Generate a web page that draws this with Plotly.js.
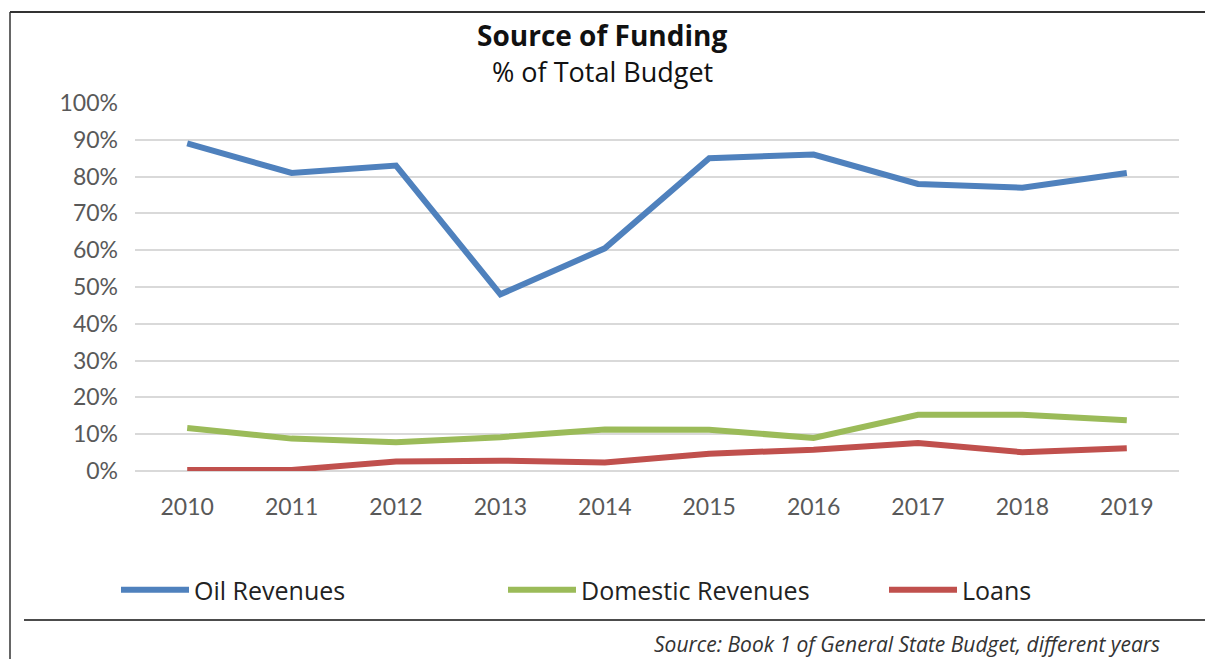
<!DOCTYPE html>
<html>
<head>
<meta charset="utf-8">
<script src="https://cdn.plot.ly/plotly-3.0.1.min.js"></script>
<style>html,body{margin:0;padding:0;background:#fff;}#chart{width:1205px;height:659px;}</style>
</head>
<body>
<div id="chart"></div>
<script>
const years = ["2010","2011","2012","2013","2014","2015","2016","2017","2018","2019"];
const oilRevenues = [0.89, 0.81, 0.83, 0.48, 0.605, 0.85, 0.86, 0.78, 0.77, 0.81];
const domesticRevenues = [0.117, 0.088, 0.078, 0.092, 0.113, 0.112, 0.09, 0.153, 0.153, 0.138];
const loans = [0.003, 0.003, 0.026, 0.028, 0.023, 0.047, 0.058, 0.076, 0.051, 0.062];
const seriesNames = ["Oil Revenues", "Domestic Revenues", "Loans"];
const seriesColors = ["#4F81BD", "#9BBB59", "#C0504D"];
const yTicks = [0,0.1,0.2,0.3,0.4,0.5,0.6,0.7,0.8,0.9,1.0];

const W = 1205, H = 659, L = 135, R = 26, T = 103, B = 188;
const pw = W - L - R, ph = H - T - B;
const px = x => (x - L) / pw;
const py = y => (H - B - y) / ph;

const legendIds = ['legend', 'legend2', 'legend3'];
const legendX = [116, 503, 884];

const traces = [oilRevenues, domesticRevenues, loans].map((vals, i) => ({
  x: years, y: vals, type: 'scatter', mode: 'lines', name: seriesNames[i],
  legend: legendIds[i],
  line: {color: seriesColors[i], width: 6}
}));

const legendBase = i => ({
  orientation: 'h', x: px(legendX[i]), xanchor: 'left', y: py(590), yanchor: 'middle',
  font: {family: 'Open Sans', size: 25, color: '#222'},
  itemwidth: 68, bgcolor: 'rgba(0,0,0,0)'
});

const layout = {
  width: W, height: H,
  margin: {l: L, r: R, t: T, b: B},
  paper_bgcolor: '#fff', plot_bgcolor: '#fff',
  showlegend: true,
  legend: legendBase(0), legend2: legendBase(1), legend3: legendBase(2),
  xaxis: {
    type: 'category', range: [-0.5, 9.5], showgrid: false, zeroline: false,
    showline: false, ticks: '', ticklabelstandoff: 20,
    tickfont: {family: 'Lato', size: 23, color: '#595959'}, fixedrange: true
  },
  yaxis: {
    range: [0, 1.0], tickvals: yTicks, tickformat: '.0%',
    showgrid: true, gridcolor: '#D9D9D9', gridwidth: 2,
    zeroline: true, zerolinecolor: '#D9D9D9', zerolinewidth: 2,
    showline: false, ticks: '', ticklabelstandoff: 16,
    tickfont: {family: 'Lato', size: 23, color: '#595959'}, fixedrange: true
  },
  annotations: [
    {text: '<b>Source of Funding</b>', xref: 'paper', yref: 'paper', x: px(602), y: py(35),
     xanchor: 'center', yanchor: 'middle', showarrow: false,
     font: {family: 'Open Sans', size: 28, color: '#111'}},
    {text: '% of Total Budget', xref: 'paper', yref: 'paper', x: px(602), y: py(71),
     xanchor: 'center', yanchor: 'middle', showarrow: false,
     font: {family: 'Open Sans', size: 27, color: '#111'}},
    {text: '<i>Source: Book 1 of General State Budget, different years</i>', xref: 'paper', yref: 'paper',
     x: px(1162), y: py(644), xanchor: 'right', yanchor: 'middle', showarrow: false,
     font: {family: 'Open Sans', size: 21, color: '#333'}}
  ],
  shapes: [
    {type: 'line', xref: 'paper', yref: 'paper', x0: px(10), x1: px(1205), y0: py(12), y1: py(12),
     line: {color: '#333', width: 2}},
    {type: 'line', xref: 'paper', yref: 'paper', x0: px(10), x1: px(10), y0: py(12), y1: py(659),
     line: {color: '#333', width: 1.5}},
    {type: 'line', xref: 'paper', yref: 'paper', x0: px(24), x1: px(1205), y0: py(620), y1: py(620),
     line: {color: '#111', width: 1.5}}
  ]
};

Plotly.newPlot('chart', traces, layout, {displayModeBar: false, staticPlot: true});
</script>
</body>
</html>
